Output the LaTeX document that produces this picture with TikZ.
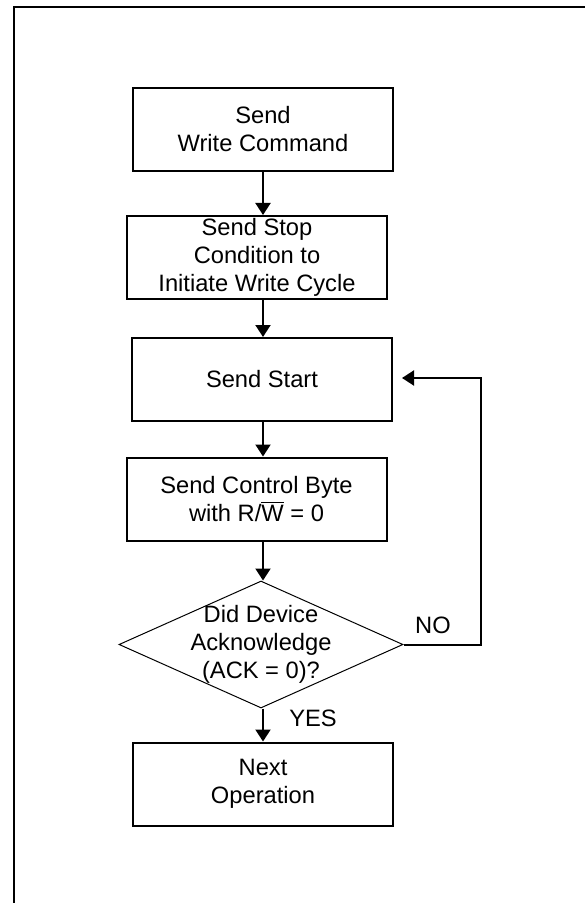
\documentclass[tikz,border=0pt]{standalone}
\usepackage{fontspec}
\setmainfont{Liberation Sans}
\usetikzlibrary{arrows.meta}
\usetikzlibrary{shapes.geometric}
\tikzstyle{stepbox}=[draw, line width=1pt, minimum width=130pt, minimum height=41.5pt, inner sep=0, align=center]
\tikzstyle{decision}=[draw, diamond, line width=0.5pt, minimum width=142pt, minimum height=63.5pt, inner sep=0]
\tikzstyle{flow}=[line width=1pt, -{Triangle[width=7.5pt, length=6pt]}]
\tikzstyle{flowchart}=[x=0.5pt, y=-0.5pt,
                       % Arial-like text as in the sheet.
                       font=\fontsize{11.85}{14}\selectfont]
\begin{document}
\begin{tikzpicture}[flowchart]
        \useasboundingbox (0, 0) rectangle (585, 903);
        \draw[line width=1pt] (13.5, 903) -- (13.5, 7.5) -- (585, 7.5);
        \node[stepbox] (write)   at (263, 129.5) {Send\\Write Command};
        \node[stepbox] (stop)    at (257, 257.5) {Send Stop\\Condition to\\Initiate Write Cycle};
        \node[stepbox] (start)   at (262, 379.5) {Send Start};
        \node[stepbox] (control) at (256.5, 499) {Send Control Byte\\with R/\(\overline{\hbox{W}}\) = 0};
        \node[decision, label={[align=center]center:Did Device\\Acknowledge\\(ACK = 0)?}] (ack) at (261, 644.5) {};
        \node[stepbox] (next)    at (263, 784) {Next\\Operation};
        \node (no)  at (433, 625) {NO};
        \node (yes) at (313, 718) {YES};
        \coordinate (loop)   at (481, 378);
        \coordinate (return) at (402, 378);
        \draw[flow] (write.south -| write) -- (stop.north -| write);
        \draw[flow] (stop.south -| write) -- (start.north -| write);
        \draw[flow] (start.south -| write) -- (control.north -| write);
        \draw[flow] (control.south -| write) -- (ack.north -| write);
        \draw[flow] (ack.south -| write) -- (next.north -| write);
        \draw[flow] (ack.east) -| (loop) -- (return);
    \end{tikzpicture}
\end{document}
